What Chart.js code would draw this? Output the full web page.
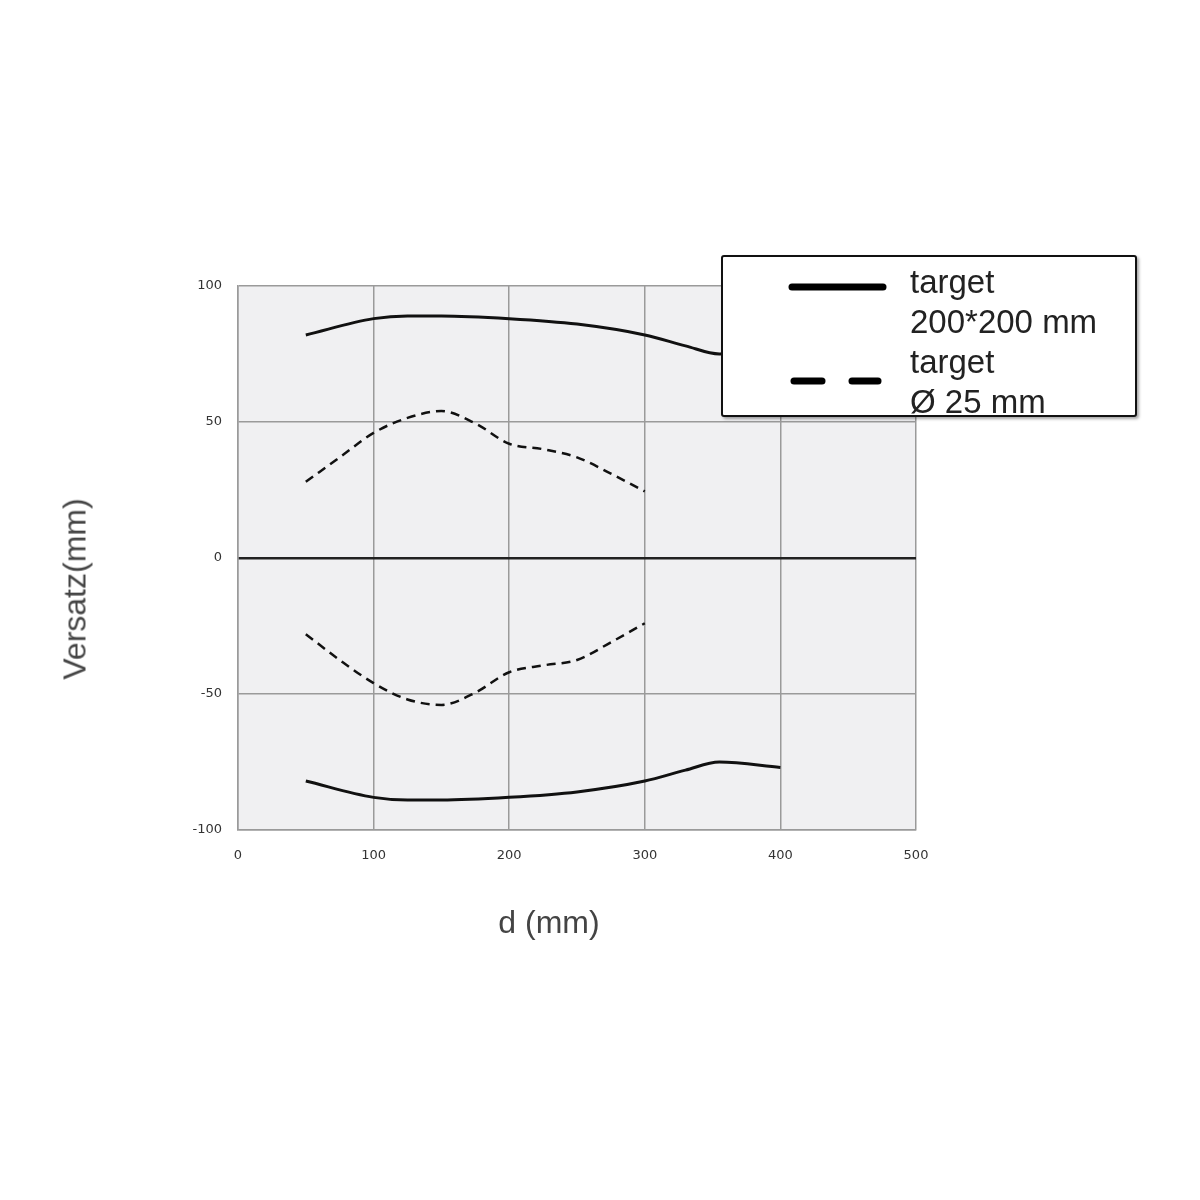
<!DOCTYPE html>
<html>
<head>
<meta charset="utf-8">
<script src="https://cdn.jsdelivr.net/npm/chart.js@4.4.1/dist/chart.umd.min.js"></script>
<style>
  body { margin: 0; background: #fff; }
  #wrap { position: relative; width: 1200px; height: 1200px; }
  canvas { position: absolute; left: 0; top: 0; }
  .axisTitle { position: absolute; font-family: "Liberation Sans", Arial, sans-serif; font-size: 32px; color: #444; white-space: nowrap; }
  #yTitle { left: 75px; top: 589px; transform: translate(-50%, -50%) rotate(-90deg); }
  #xTitle { left: 549px; top: 922px; transform: translate(-50%, -50%); }
  #legend {
    position: absolute; left: 721px; top: 255px; width: 412px; height: 158px;
    border: 2px solid #111; border-radius: 3px; background: #fff;
    box-shadow: 2px 2px 3px rgba(0,0,0,0.35);
    font-family: "Liberation Sans", Arial, sans-serif; font-size: 33px; color: #222;
  }
  #legend .txt { position: absolute; left: 187px; line-height: 40px; white-space: nowrap; }
  #legend svg { position: absolute; left: 0; top: 0; }
</style>
</head>
<body>
<div id="wrap">
  <canvas id="versatzChart" width="1200" height="1200"></canvas>
  <div class="axisTitle" id="yTitle">Versatz(mm)</div>
  <div class="axisTitle" id="xTitle">d (mm)</div>
  <div id="legend">
    <svg width="412" height="158">
      <line x1="69" y1="30" x2="160" y2="30" stroke="#000" stroke-width="7" stroke-linecap="round"/>
      <line x1="71" y1="124" x2="99" y2="124" stroke="#000" stroke-width="7" stroke-linecap="round"/>
      <line x1="129" y1="124" x2="155" y2="124" stroke="#000" stroke-width="7" stroke-linecap="round"/>
    </svg>
    <div class="txt" style="top: 5px;">target<br>200*200 mm</div>
    <div class="txt" style="top: 85px;">target<br>Ø 25 mm</div>
  </div>
</div>
<script>
// d (mm) positions and offsets
const xSolid = [50, 100, 125, 150, 200, 250, 300, 330, 355, 400];
const solidUpper = [82, 88, 89, 89, 88, 86, 82, 78, 75, 77];
const solidLower = [-82, -88, -89, -89, -88, -86, -82, -78, -75, -77];

const xDashed = [50, 75, 100, 125, 150, 175, 200, 225, 250, 275, 300];
const dashedUpper = [28, 37, 46, 51.5, 54, 49.5, 42, 40, 37, 31, 24.5];
const dashedLower = [-28, -37.5, -46, -52, -54, -49.5, -42, -39.5, -37.5, -31, -24];

const xTicks = [0, 100, 200, 300, 400, 500];
const yTicks = [-100, -50, 0, 50, 100];

const toPoints = (xs, ys) => xs.map((x, i) => ({ x: x, y: ys[i] }));

// fill the plot area light grey before anything else is drawn
const plotBackground = {
  id: "plotBackground",
  beforeDraw(chart) {
    const { ctx, chartArea } = chart;
    ctx.save();
    ctx.fillStyle = "#f0f0f2";
    ctx.fillRect(chartArea.left, chartArea.top, chartArea.right - chartArea.left, chartArea.bottom - chartArea.top);
    ctx.restore();
  },
};

const solidStyle = { borderColor: "#111", borderWidth: 3, pointRadius: 0, fill: false, cubicInterpolationMode: "monotone" };
const dashedStyle = { borderColor: "#111", borderWidth: 2.5, borderDash: [9, 6], pointRadius: 0, fill: false, cubicInterpolationMode: "monotone" };

const ctx = document.getElementById("versatzChart").getContext("2d");
new Chart(ctx, {
  type: "line",
  data: {
    datasets: [
      { label: "target 200*200 mm", data: toPoints(xSolid, solidUpper), ...solidStyle },
      { label: "target 200*200 mm (lower)", data: toPoints(xSolid, solidLower), ...solidStyle },
      { label: "target Ø 25 mm", data: toPoints(xDashed, dashedUpper), ...dashedStyle },
      { label: "target Ø 25 mm (lower)", data: toPoints(xDashed, dashedLower), ...dashedStyle },
    ],
  },
  options: {
    responsive: false,
    animation: false,
    layout: { padding: { top: 286, right: 284, left: 0, bottom: 0 } },
    plugins: { legend: { display: false }, tooltip: { enabled: false } },
    scales: {
      x: {
        type: "linear",
        min: 0,
        max: 500,
        afterBuildTicks: (scale) => { scale.ticks = xTicks.map((v) => ({ value: v })); },
        afterFit: (scale) => { scale.height = 370; },
        grid: { color: "#9a9a9a", lineWidth: 1.5, drawTicks: false },
        border: { display: true, color: "#9a9a9a", width: 1.5 },
        ticks: { padding: 18, color: "#333", font: { family: "DejaVu Sans", size: 13 } },
      },
      y: {
        min: -100,
        max: 100,
        afterBuildTicks: (scale) => { scale.ticks = yTicks.map((v) => ({ value: v })); },
        afterFit: (scale) => { scale.width = 238; },
        grid: {
          color: (c) => (c.tick && c.tick.value === 0 ? "#222" : "#9a9a9a"),
          lineWidth: (c) => (c.tick && c.tick.value === 0 ? 2.5 : 1.5),
          drawTicks: false,
        },
        border: { display: true, color: "#9a9a9a", width: 1.5 },
        ticks: { padding: 16, color: "#333", font: { family: "DejaVu Sans", size: 13 } },
      },
    },
  },
  plugins: [plotBackground],
});
</script>
</body>
</html>
